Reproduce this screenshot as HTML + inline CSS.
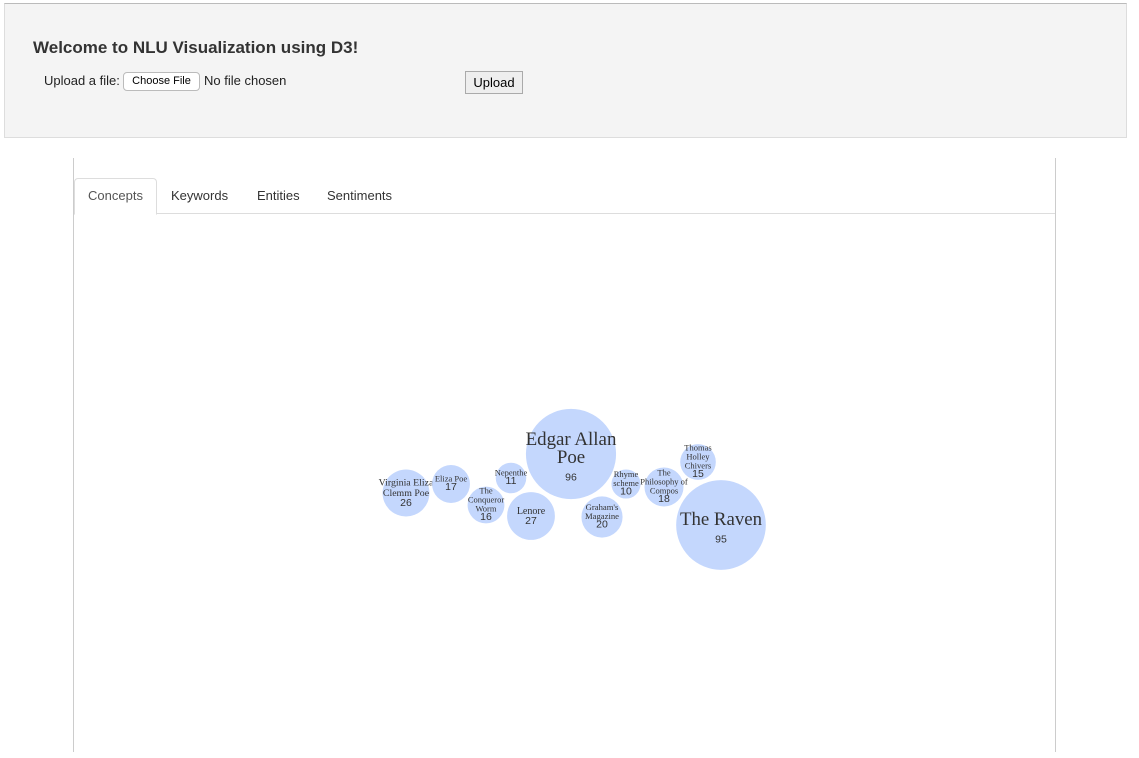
<!DOCTYPE html>
<html><head><meta charset="utf-8"><style>
body{margin:0;width:1139px;height:758px;overflow:hidden;background:#fff;font-family:"Liberation Sans",sans-serif;position:relative}
.abs{position:absolute}
#top{left:4px;top:3px;width:1121px;height:133px;background:#f4f4f4;border:1px solid #ddd;border-top:1px solid #bbb}
h1{position:absolute;left:28px;top:34px;margin:0;font-size:17px;font-weight:bold;color:#333}
.tab{position:absolute;top:178px;height:35px;line-height:35px;font-size:13px;color:#333}
</style></head><body>
<div class="abs" id="top">
<h1>Welcome to NLU Visualization using D3!</h1>
<span class="abs" style="left:39px;top:69px;font-size:13px;color:#222">Upload a file:</span>
<span class="abs" style="left:118px;top:68px;width:75px;height:17px;border:1px solid #bbb;border-radius:4px;background:#fff;font-size:11px;text-align:center;line-height:17px">Choose File</span>
<span class="abs" style="left:199px;top:69px;font-size:13px;color:#222">No file chosen</span>
<span class="abs" style="left:460px;top:67px;width:56px;height:21px;border:1px solid #aaa;background:#eee;font-size:13px;text-align:center;line-height:21px">Upload</span>
</div>
<div class="abs" style="left:73px;top:158px;width:1px;height:594px;background:#ccc"></div>
<div class="abs" style="left:1055px;top:158px;width:1px;height:594px;background:#ccc"></div>
<div class="abs" style="left:74px;top:213px;width:981px;height:1px;background:#ddd"></div>
<div class="tab" style="left:74px;width:81px;text-align:center;border:1px solid #ddd;border-bottom:1px solid #fff;border-radius:4px 4px 0 0;background:#fff;color:#555;line-height:33px">Concepts</div>
<div class="tab" style="left:171px">Keywords</div>
<div class="tab" style="left:257px">Entities</div>
<div class="tab" style="left:327px">Sentiments</div>
<svg class="abs" style="left:0;top:0" width="1139" height="758" id="chart"></svg>
<script>
const labels=[["Virginia Eliza","Clemm Poe"],["Eliza Poe"],["The","Conqueror","Worm"],["Nepenthe"],["Lenore"],["Edgar Allan","Poe"],["Graham's","Magazine"],["Rhyme","scheme"],["The","Philosophy of","Compos"],["Thomas","Holley","Chivers"],["The Raven"]];
const values=[26,17,16,11,27,96,20,10,18,15,95];
// pack layout centers (layout, not data)
const layout=[[406,493],[451,484],[486,505],[511,478],[531,516],[571,454],[602,517],[626,484],[664,487],[698,462],[721,525]];
const svg=document.getElementById('chart');
const NS="http://www.w3.org/2000/svg";
const rScale=v=>4.6*Math.sqrt(v);
values.forEach((v,i)=>{
 const g=document.createElementNS(NS,'g');
 
 
 const [cx,cy]=layout[i];const r=rScale(v);
 const c=document.createElementNS(NS,'circle');
 c.setAttribute('cx',cx);c.setAttribute('cy',cy);c.setAttribute('r',r);c.setAttribute('fill','#c4d7fd');
 g.appendChild(c);
 const fs=Math.max(8.5,r*0.42);const lines=labels[i];
 const lh=fs*(r>30?0.95:1.05);const nfs=Math.max(10.5,r*0.22);
 const total=lines.length*lh+nfs;
 let y=cy-total/2+lh*0.8;
 lines.forEach(l=>{
  const t=document.createElementNS(NS,'text');
  t.setAttribute('x',cx);t.setAttribute('y',y);t.setAttribute('text-anchor','middle');
  t.setAttribute('font-family','"Liberation Serif",serif');t.setAttribute('font-size',fs);t.setAttribute('fill','#333');
  t.textContent=l;g.appendChild(t);y+=lh;
 });
 const n=document.createElementNS(NS,'text');
 n.setAttribute('x',cx);n.setAttribute('y',y-nfs*0.05);n.setAttribute('text-anchor','middle');
 n.setAttribute('font-family','"Liberation Sans",sans-serif');n.setAttribute('font-size',nfs);n.setAttribute('fill','#333');
 n.textContent=v;g.appendChild(n);
 svg.appendChild(g);
});
</script>
</body></html>
